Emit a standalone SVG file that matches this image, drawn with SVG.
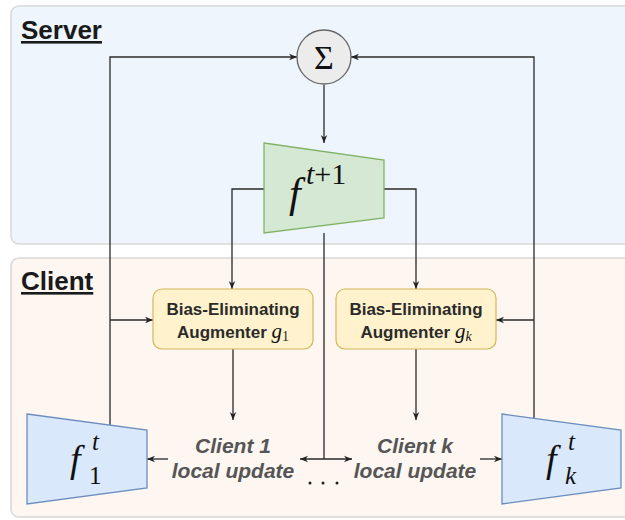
<svg xmlns="http://www.w3.org/2000/svg" width="625" height="520" viewBox="0 0 625 520">
<defs>
<marker id="ah" viewBox="0 0 10 10" refX="10" refY="5" markerWidth="8" markerHeight="8" markerUnits="userSpaceOnUse" orient="auto-start-reverse"><path d="M0,1 L10,5 L0,9 L3,5 Z" fill="#222"/></marker>
</defs>
<style>
.panel{stroke:#d8d8d8;stroke-width:1.5}
.title{font-family:"Liberation Sans",Arial,sans-serif;font-weight:bold;font-size:26px;fill:#1a1a1a;text-decoration:underline}
.conn{fill:none;stroke:#2a2a2a;stroke-width:1.3}
.aug{fill:#fff2cc;stroke:#d6b656;stroke-width:1.2}
.augt{font-family:"Liberation Sans",Arial,sans-serif;font-weight:bold;font-size:17px;fill:#2a2a2a;text-anchor:middle}
.math{font-family:"Liberation Serif","Times New Roman",serif;font-style:italic;fill:#111}
.up{font-family:"Liberation Sans",Arial,sans-serif;font-weight:bold;font-style:italic;font-size:21px;fill:#555;text-anchor:middle}
.blue{fill:#dae8fc;stroke:#6c8ebf;stroke-width:1.3}
</style>
<rect class="panel" x="11" y="6" width="622" height="238" rx="8" fill="#eef5fd"/>
<rect class="panel" x="11" y="258" width="622" height="259" rx="8" fill="#fdf6f1"/>
<text class="title" x="21" y="39">Server</text>
<text class="title" x="21" y="290">Client</text>

<g id="connectors">
<path class="conn" d="M110,425 V57 H297" marker-end="url(#ah)"/>
<path class="conn" d="M534,418 V57 H351" marker-end="url(#ah)"/>
<path class="conn" d="M324,85 V143" marker-end="url(#ah)"/>
<path class="conn" d="M264,189 H232 V289" marker-end="url(#ah)"/>
<path class="conn" d="M384,189 H416 V289" marker-end="url(#ah)"/>
<path class="conn" d="M324,233 V459"/>
<path class="conn" d="M300,459 H352" marker-start="url(#ah)" marker-end="url(#ah)"/>
<path class="conn" d="M110,320 H153" marker-end="url(#ah)"/>
<path class="conn" d="M534,320 H496" marker-end="url(#ah)"/>
<path class="conn" d="M233,349 V420" marker-end="url(#ah)"/>
<path class="conn" d="M416,349 V420" marker-end="url(#ah)"/>
<path class="conn" d="M168,459 H147" marker-end="url(#ah)"/>
<path class="conn" d="M480,459 H502" marker-end="url(#ah)"/>
</g>

<g id="sum">
<circle cx="324" cy="57" r="27" fill="#ececec" stroke="#666" stroke-width="1.3"/>
<text x="324" y="69" font-family="Liberation Serif,serif" font-size="34" text-anchor="middle" fill="#111">Σ</text>
</g>

<g id="global-model">
<polygon points="264,143 384,160 384,218 264,233" fill="#d5e8d4" stroke="#82b366" stroke-width="1.3"/>
<text class="math" x="289" y="207" font-size="42">f</text>
<text class="math" x="306" y="184" font-size="30">t<tspan font-style="normal">+1</tspan></text>
</g>

<g id="aug1">
<rect class="aug" x="153" y="289" width="160" height="60" rx="9"/>
<text class="augt" x="233" y="315">Bias-Eliminating</text>
<text class="augt" x="233" y="338">Augmenter <tspan class="math" font-size="21" font-weight="normal">g</tspan><tspan font-family="Liberation Serif,serif" font-weight="normal" font-size="14" dy="3">1</tspan></text>
</g>

<g id="augk">
<rect class="aug" x="336" y="289" width="160" height="60" rx="9"/>
<text class="augt" x="416" y="315">Bias-Eliminating</text>
<text class="augt" x="416" y="338">Augmenter <tspan class="math" font-size="21" font-weight="normal">g</tspan><tspan class="math" font-weight="normal" font-size="14" dy="3">k</tspan></text>
</g>

<g id="update1">
<text class="up" x="233" y="453">Client 1</text>
<text class="up" x="233" y="478">local update</text>
</g>

<g id="updatek">
<text class="up" x="415" y="453">Client k</text>
<text class="up" x="415" y="478">local update</text>
</g>

<g id="dots">
<circle cx="310" cy="483" r="1.5" fill="#222"/>
<circle cx="323" cy="483" r="1.5" fill="#222"/>
<circle cx="337" cy="483" r="1.5" fill="#222"/>
</g>

<g id="client1-model">
<polygon class="blue" points="27,414 147,430 147,488 27,504"/>
<text class="math" x="70" y="472" font-size="38">f</text>
<text class="math" x="92" y="450" font-size="25">t</text>
<text x="89" y="484" font-family="Liberation Serif,serif" font-size="25" fill="#111">1</text>
</g>

<g id="clientk-model">
<polygon class="blue" points="502,414 621,430 621,488 502,504"/>
<text class="math" x="546" y="472" font-size="38">f</text>
<text class="math" x="568" y="450" font-size="25">t</text>
<text class="math" x="565" y="484" font-size="25">k</text>
</g>
</svg>
